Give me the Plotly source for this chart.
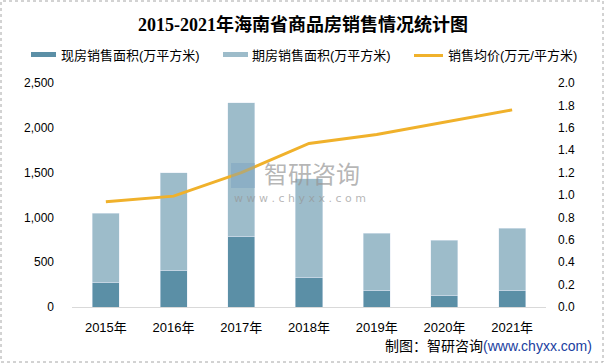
import plotly.graph_objects as go

years = ["2015年", "2016年", "2017年", "2018年", "2019年", "2020年", "2021年"]
spot_area = [278, 411, 789, 333, 189, 133, 189]          # 现房销售面积
futures_area = [766, 1089, 1489, 1100, 633, 611, 689]    # 期房销售面积
avg_price = [0.94, 0.99, 1.20, 1.46, 1.54, 1.65, 1.76]   # 销售均价

left_ticks = [0, 500, 1000, 1500, 2000, 2500]
right_ticks = [0, 0.2, 0.4, 0.6, 0.8, 1.0, 1.2, 1.4, 1.6, 1.8, 2.0]

W, H = 605, 364
L, R, T, B = 72, 59, 83, 57
PW, PH = W - L - R, H - T - B

def px(x):
    return (x - L) / PW

def py(y):
    return (H - B - y) / PH

C_SPOT = "#5b8fa6"
C_FUT = "#9dbcca"
C_LINE = "#f0b12b"
FONT = "Liberation Sans, Noto Sans CJK SC, sans-serif"

fig = go.Figure()
fig.add_bar(x=years, y=spot_area, name="现房销售面积(万平方米)", marker_color=C_SPOT,
            width=0.4, showlegend=False)
fig.add_bar(x=years, y=futures_area, name="期房销售面积(万平方米)", marker_color=C_FUT,
            width=0.4, showlegend=False)
fig.add_scatter(x=years, y=avg_price, name="销售均价(万元/平方米)", mode="lines",
                line=dict(color=C_LINE, width=3), yaxis="y2", showlegend=False)

shapes = [
    # legend symbols
    dict(type="rect", xref="paper", yref="paper", x0=px(31), x1=px(56), y0=py(57), y1=py(52),
         fillcolor=C_SPOT, line_width=0),
    dict(type="rect", xref="paper", yref="paper", x0=px(223), x1=px(248), y0=py(57), y1=py(52),
         fillcolor=C_FUT, line_width=0),
    dict(type="line", xref="paper", yref="paper", x0=px(414), x1=px(443), y0=py(55.5), y1=py(55.5),
         line=dict(color=C_LINE, width=3)),
    # watermark icon
    dict(type="rect", xref="paper", yref="paper", x0=px(231), x1=px(255), y0=py(188), y1=py(163),
         fillcolor="rgba(120,160,190,0.45)", line_width=0, layer="above"),
    # outer border
    dict(type="rect", xref="paper", yref="paper", x0=px(1), x1=px(603), y0=py(362), y1=py(1),
         line=dict(color="#a6a6a6", width=1, dash="dot")),
]

annotations = [
    dict(text="现房销售面积(万平方米)", x=px(59), y=py(55), xref="paper", yref="paper",
         xanchor="left", yanchor="middle", showarrow=False, font=dict(size=13, color="#000", family=FONT)),
    dict(text="期房销售面积(万平方米)", x=px(250), y=py(55), xref="paper", yref="paper",
         xanchor="left", yanchor="middle", showarrow=False, font=dict(size=13, color="#000", family=FONT)),
    dict(text="销售均价(万元/平方米)", x=px(446), y=py(55), xref="paper", yref="paper",
         xanchor="left", yanchor="middle", showarrow=False, font=dict(size=13, color="#000", family=FONT)),
    dict(text="智研咨询", x=px(262), y=py(172), xref="paper", yref="paper",
         xanchor="left", yanchor="middle", showarrow=False,
         font=dict(size=24, color="rgba(150,150,150,0.7)", family="Noto Sans CJK SC")),
    dict(text="w w w . c h y x x . c o m", x=px(232), y=py(198), xref="paper", yref="paper",
         xanchor="left", yanchor="middle", showarrow=False,
         font=dict(size=11, color="rgba(150,150,150,0.7)", family="DejaVu Sans")),
    dict(text="制图：智研咨询<span style='color:#2040a0'>(www.chyxx.com)</span>",
         x=px(594), y=py(346), xref="paper", yref="paper", xanchor="right", yanchor="middle",
         showarrow=False, font=dict(size=14, color="#000", family=FONT)),
]

fig.update_layout(
    width=W, height=H, barmode="stack",
    margin=dict(l=L, r=R, t=T, b=B),
    paper_bgcolor="white", plot_bgcolor="white",
    title=dict(text="<b>2015-2021年海南省商品房销售情况统计图</b>", x=px(303), xref="paper",
               xanchor="center", y=1 - 25 / H, yanchor="middle",
               font=dict(size=18, color="#000", family="Liberation Serif, Noto Sans CJK SC, serif")),
    xaxis=dict(showline=True, linecolor="#d9d9d9", linewidth=1, showgrid=False, ticks="",
               tickfont=dict(size=13, color="#000", family=FONT), ticklabelstandoff=8),
    yaxis=dict(range=[0, 2500], tickvals=left_ticks, tickformat=",", showgrid=False,
               zeroline=False, showline=False, ticks="", ticklabelstandoff=17,
               tickfont=dict(size=12, color="#000", family=FONT)),
    yaxis2=dict(range=[0, 2.0], tickvals=right_ticks, tickformat=".1f", overlaying="y", side="right",
                showgrid=False, zeroline=False, showline=False, ticks="", ticklabelstandoff=11,
                tickfont=dict(size=12, color="#000", family=FONT)),
    shapes=shapes, annotations=annotations, showlegend=False,
)

fig.write_html("out.html", config={"displayModeBar": False},
               post_script="document.body.style.margin='0';document.body.style.overflow='hidden';")
